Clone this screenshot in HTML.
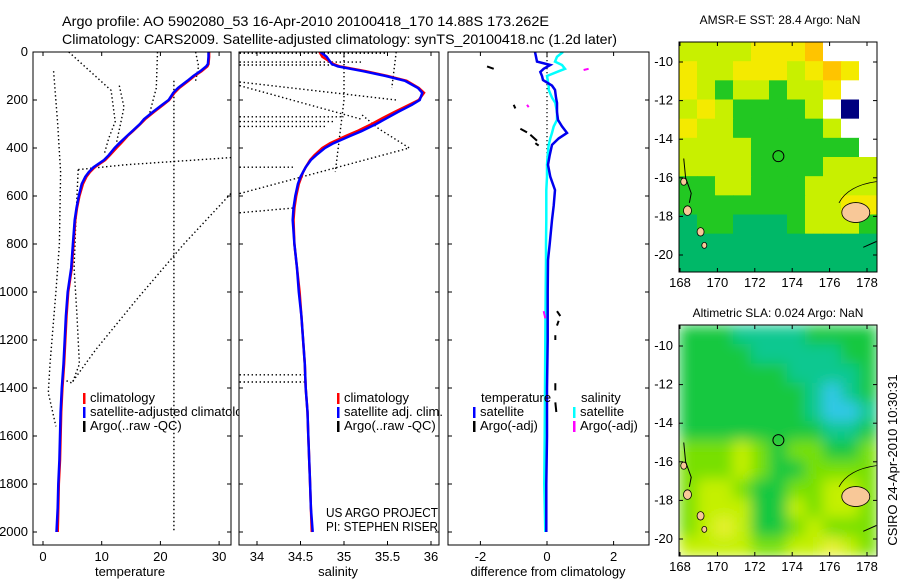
<!DOCTYPE html>
<html><head><meta charset="utf-8"><style>
html,body{margin:0;padding:0;background:#fff;}
svg{display:block;font-family:"Liberation Sans",sans-serif;}
</style></head><body>
<svg id="fig" width="900" height="580" viewBox="0 0 900 580" xmlns="http://www.w3.org/2000/svg">
<defs>
<filter id="blur" x="0" y="0" width="1" height="1"><feGaussianBlur stdDeviation="7"/></filter>
<clipPath id="cm1"><rect x="679" y="42" width="198" height="230"/></clipPath>
<clipPath id="cm2"><rect x="679" y="325" width="198" height="231"/></clipPath>
<clipPath id="cp1"><rect x="33" y="52" width="198" height="493"/></clipPath>
<clipPath id="cp2"><rect x="239" y="52" width="200" height="493"/></clipPath>
<clipPath id="cp3"><rect x="448" y="52" width="201" height="493"/></clipPath>
<clipPath id="clg1"><rect x="0" y="380" width="239" height="60"/></clipPath>
</defs>
<text x="62" y="26" font-size="14" textLength="487" lengthAdjust="spacingAndGlyphs">Argo profile: AO 5902080_53 16-Apr-2010 20100418_170 14.88S 173.262E</text>
<text x="62" y="44" font-size="14" textLength="555" lengthAdjust="spacingAndGlyphs">Climatology: CARS2009. Satellite-adjusted climatology: synTS_20100418.nc (1.2d later)</text>
<g id="g1" clip-path="url(#cp1)"></g>
<g id="g2" clip-path="url(#cp2)"></g>
<g id="g3" clip-path="url(#cp3)"></g>
<g id="axes"></g>
<g id="m1" clip-path="url(#cm1)"></g>
<g id="m2"></g>
<g id="mapaxes"></g>
<text x="780" y="24" font-size="12" text-anchor="middle">AMSR-E SST: 28.4  Argo: NaN</text>
<text x="778" y="317" font-size="12" text-anchor="middle">Altimetric SLA: 0.024  Argo: NaN</text>
<text x="0" y="0" font-size="13" text-anchor="middle" transform="translate(897,460) rotate(-90)">CSIRO 24-Apr-2010 10:30:31</text>
<g id="legends1" clip-path="url(#clg1)"></g>
<g id="legends"></g>
</svg>
<script>
// ---------- data ----------
const depthTicks=[0,200,400,600,800,1000,1200,1400,1600,1800,2000];
const tempTicks=[0,10,20,30];
const salTicks=["34","34.5","35","35.5","36"];
const diffTicks=[-2,0,2];
const lonTicks=[168,170,172,174,176,178];
const latTicks=[-10,-12,-14,-16,-18,-20];
const profDepth=[0,20,50,60,80,100,120,150,170,200,220,250,280,300,330,350,380,400,430,450,480,500,520,550,600,650,700,800,900,1000,1100,1200,1300,1400,1500,1600,1700,1800,1900,2000];
const tempClim=[28.3,28.3,28.2,28.0,27.0,25.8,24.8,23.2,22.4,21.5,20.5,18.9,17.4,16.6,15.3,14.4,13.3,12.5,11.4,10.6,8.8,8.0,7.4,6.8,6.2,5.8,5.5,5.2,4.9,4.3,4.0,3.8,3.6,3.3,3.1,3.0,2.9,2.7,2.6,2.5];
const tempSat=[28.2,28.2,28.1,27.8,26.8,25.6,24.6,23.0,22.2,21.4,20.3,18.7,17.2,16.5,15.2,14.3,13.0,12.2,11.2,10.4,8.6,7.8,7.2,6.6,6.1,5.7,5.4,5.1,4.8,4.2,3.9,3.7,3.5,3.2,3.0,2.9,2.8,2.6,2.5,2.3];
const salClim=[34.72,34.75,34.88,34.95,35.25,35.5,35.72,35.86,35.92,35.86,35.75,35.58,35.42,35.32,35.15,35.02,34.84,34.75,34.66,34.61,34.56,34.53,34.51,34.48,34.45,34.43,34.42,34.43,34.46,34.49,34.51,34.53,34.55,34.56,34.58,34.59,34.6,34.61,34.62,34.63];
const salSat=[34.73,34.8,34.86,34.93,35.22,35.48,35.7,35.85,35.9,35.87,35.78,35.62,35.47,35.37,35.2,35.07,34.88,34.78,34.68,34.62,34.56,34.53,34.5,34.47,34.44,34.42,34.41,34.43,34.46,34.48,34.51,34.53,34.55,34.56,34.58,34.59,34.6,34.61,34.62,34.64];
const diffDepth=[0,20,40,54,70,83,100,117,140,158,190,212,250,283,310,337,360,387,430,470,520,575,640,700,800,867,1000,1200,1400,1600,1800,2000];
const diffTemp=[-0.36,-0.33,-0.3,0.1,-0.1,-0.2,-0.15,-0.12,0.15,0.24,0.27,0.3,0.3,0.33,0.45,0.6,0.35,0.15,0.08,0.03,0.1,0.24,0.2,0.15,0.08,0.03,0.02,0.02,0.0,0.0,-0.02,-0.02];
const diffSal=[0.48,0.3,0.24,0.45,0.54,0.3,0.0,0.02,0.05,0.05,0.15,0.25,0.3,0.3,0.2,0.15,0.1,0.05,0.02,0.0,0.0,-0.02,-0.02,-0.02,-0.03,-0.03,-0.04,-0.05,-0.06,-0.07,-0.08,-0.05];
const tempOthers=[
 [[1.8,80],[2.5,300],[3,500],[2.8,800],[2.2,1000],[1.2,1300],[0.9,1420],[2.2,1560]],
 [[4.4,0],[8,80],[11.6,160],[12.3,290],[11.2,360],[10.5,420]],
 [[13,140],[13.8,230],[13.2,300],[12.5,380]],
 [[22.3,120],[22.3,800],[22.3,1400],[22.3,2000]],
 [[19.5,0],[19.3,150],[18,270]],
 [[6,490],[14,470],[32,440]],
 [[6,490],[5.6,700],[5.3,900],[5.8,1100],[6.2,1300],[5,1380],[4,1370]],
 [[32,590],[24,800],[16,1030],[9,1240],[5,1375]],
 [[26,0],[26.5,60],[26,120]]
];
const salOthers=[
 [[33.8,5],[35.5,5]],[[33.8,42],[35.2,42]],[[33.8,54],[34.9,54]],
 [[33.8,125],[35.6,200]],[[33.8,140],[35.2,280]],
 [[33.8,270],[35.0,270]],[[33.8,290],[34.9,290]],[[33.8,310],[34.8,310]],
 [[33.8,480],[34.42,480]],[[33.8,590],[35.75,400],[35.4,320],[35.2,260]],
 [[33.8,670],[34.42,650]],[[35.0,0],[35.0,200],[34.9,500]],[[35.6,0],[35.55,150]],
 [[33.8,1345],[34.55,1345]],[[33.8,1375],[34.55,1375]]
];
const argoSegs=[[-1.8,60,-1.6,70],[-1.0,220,-0.95,235],[-0.8,320,-0.6,335],[-0.5,345,-0.3,370],[-0.35,380,-0.25,390],[0.3,1080,0.4,1100],[0.35,1120,0.3,1140],[0.25,1180,0.25,1200],[0.25,1380,0.25,1410],[0.25,1460,0.28,1500]];
const argoSalSegs=[[1.1,75,1.25,70],[-0.6,220,-0.55,230],[-0.1,1080,-0.05,1110]];
const sstGrid=[
 [3,3,3,3,2,2,2,1,0,0,0],
 [2,3,3,2,2,2,3,2,1,2,0],
 [2,3,4,3,3,4,3,3,2,0,0],
 [3,2,3,4,4,4,4,3,0,6,0],
 [2,3,3,4,4,4,4,4,3,0,0],
 [3,3,3,3,4,4,4,4,4,4,0],
 [3,3,3,3,4,4,4,4,3,3,3],
 [4,4,3,3,4,4,4,3,3,3,3],
 [4,4,4,4,4,4,4,3,3,2,2],
 [5,4,4,5,5,5,4,3,3,3,4],
 [5,5,5,5,5,5,5,5,5,5,5],
 [5,5,5,5,5,5,5,5,5,5,5]];
const slaGrid=[
 [2,2,2,1,1,1,1,2,2,2,2],
 [2,2,2,2,1,1,1,1,1,2,2],
 [2,2,2,2,2,2,1,1,1,1,2],
 [2,2,2,2,2,2,2,1,0,1,2],
 [2,2,2,2,2,2,2,1,0,0,1],
 [2,2,2,2,2,2,2,2,1,1,2],
 [3,3,3,4,3,2,3,3,2,2,3],
 [3,3,3,4,3,2,2,3,3,3,3],
 [3,4,4,3,2,2,3,3,4,4,3],
 [3,4,4,4,2,2,4,3,4,4,3],
 [3,4,5,4,2,2,3,4,3,3,3],
 [4,4,4,4,3,3,4,4,5,4,3]];
const sstColors=["#ffffff","#ffc400","#f4ea00","#c8f000","#22c822","#00b868","#000080"];
const slaColors=["#30c8e8","#10c890","#18c840","#78e000","#c4f000","#e8f030"];
// ---------- scales ----------
const NS="http://www.w3.org/2000/svg";
const yD=d=>52+d*0.24;
const xT=t=>43+t*5.87;
const xS=s=>257+(s-34)*87;
const xF=v=>547+v*33.3;
const mx=l=>680+(l-168)*18.7;
const my1=la=>62+(-10-la)*19.3;
const my2=la=>346+(-10-la)*19.3;
function el(tag,at,parent){const e=document.createElementNS(NS,tag);for(const k in at)e.setAttribute(k,at[k]);(parent||document.getElementById('fig')).appendChild(e);return e;}
function poly(g,xs,ds,fx,color,w,name,dash){const pts=xs.map((v,i)=>fx(v).toFixed(1)+','+yD(ds[i]).toFixed(1)).join(' ');const p=el('polyline',{points:pts,fill:'none',stroke:color,'stroke-width':w},g);if(dash)p.setAttribute('stroke-dasharray',dash);

return p;}
const g1=document.getElementById('g1'),g2=document.getElementById('g2'),g3=document.getElementById('g3');
tempOthers.forEach(pr=>poly(g1,pr.map(p=>p[0]),pr.map(p=>p[1]),xT,'#000',1.4,'nearby-temperature-profile','1.4 2.6'));
salOthers.forEach(pr=>poly(g2,pr.map(p=>p[0]),pr.map(p=>p[1]),xS,'#000',1.4,'nearby-salinity-profile','1.4 2.6'));
poly(g1,tempClim,profDepth,xT,'#f00',2.5,'temperature-climatology-line');
poly(g1,tempSat,profDepth,xT,'#00f',2.5,'temperature-satellite-line');
poly(g2,salClim,profDepth,xS,'#f00',2.5,'salinity-climatology-line');
poly(g2,salSat,profDepth,xS,'#00f',2.5,'salinity-satellite-line');
poly(g3,[0,0],[0,470],xF,'#000',1.2,'zero-reference-line','1.2 2.8');
poly(g3,diffSal,diffDepth,xF,'#00ffff',2.5,'salinity-difference-line');
poly(g3,diffTemp,diffDepth,xF,'#0000ee',2.5,'temperature-difference-line');
argoSegs.forEach(s=>{const l=el('line',{x1:xF(s[0]),y1:yD(s[1]),x2:xF(s[2]),y2:yD(s[3]),stroke:'#000','stroke-width':2},g3);

});
argoSalSegs.forEach(s=>{const l=el('line',{x1:xF(s[0]),y1:yD(s[1]),x2:xF(s[2]),y2:yD(s[3]),stroke:'#ff00ff','stroke-width':2},g3);

});
const lg=document.getElementById('legends');
const lg1=document.getElementById('legends1');
function legend(x,y,color,txt,name,parent){const p=parent||lg;const r=el('rect',{x:x,y:y-9,width:2.5,height:11,fill:color},p);


const t=el('text',{x:x+7,y:y,'font-size':13},p);t.textContent=txt;

}
legend(83,402,'#f00','climatology','legend-climatology-temp',lg1);
legend(83,416,'#00f','satellite-adjusted climatology','legend-satellite-temp',lg1);
legend(83,430,'#000','Argo(..raw -QC)','legend-argo-temp',lg1);
const ax=document.getElementById('axes');
legend(337,402,'#f00','climatology','legend-climatology-sal');
legend(337,416,'#00f','satellite adj. clim.','legend-satellite-sal');
legend(337,430,'#000','Argo(..raw -QC)','legend-argo-sal');
function txt(x,y,s,anchor,name,size){const t=el('text',{x:x,y:y,'font-size':size||13,'text-anchor':anchor||'middle'},ax);t.textContent=s;

return t;}
txt(481,402,'temperature','start','legend-temperature-header');
txt(581,402,'salinity','start','legend-salinity-header');
legend(473,416,'#00f','satellite','legend-satellite-tdiff');
legend(473,430,'#000','Argo(-adj)','legend-argo-tdiff');
legend(573,416,'#00ffff','satellite','legend-satellite-sdiff');
legend(573,430,'#ff00ff','Argo(-adj)','legend-argo-sdiff');
const pl=txt(326,517,'US ARGO PROJECT','start','project-label');
pl.setAttribute('textLength','112');pl.setAttribute('lengthAdjust','spacingAndGlyphs');
const pi=txt(326,531,'PI: STEPHEN RISER','start','pi-label');
pi.setAttribute('textLength','112');pi.setAttribute('lengthAdjust','spacingAndGlyphs');
function box(x,w,name){const r=el('rect',{x:x,y:52,width:w,height:493,fill:'none',stroke:'#000','stroke-width':1},ax);

}
box(33,198,'temperature-panel-frame');box(239,200,'salinity-panel-frame');box(448,201,'difference-panel-frame');
depthTicks.forEach(d=>{const y=yD(d);txt(28,y+4,String(d),'end','depth-tick-label');
[[33,231],[239,439],[448,649]].forEach(p=>{el('line',{x1:p[0],y1:y,x2:p[0]+4,y2:y,stroke:'#000'},ax);el('line',{x1:p[1],y1:y,x2:p[1]-4,y2:y,stroke:'#000'},ax);});});
function xticks(vals,f,name){vals.forEach(v=>{const x=f(+v);txt(x,561,String(v),'middle',name);el('line',{x1:x,y1:545,x2:x,y2:541,stroke:'#000'},ax);el('line',{x1:x,y1:52,x2:x,y2:56,stroke:'#000'},ax);});}
xticks(tempTicks,xT,'temperature-tick-label');
xticks(salTicks,xS,'salinity-tick-label');
xticks(diffTicks,xF,'difference-tick-label');
txt(130,576,'temperature','middle','temperature-axis-title');
txt(338,576,'salinity','middle','salinity-axis-title');
txt(548,576,'difference from climatology','middle','difference-axis-title');
const m1=document.getElementById('m1'),m2=document.getElementById('m2');
const cw=198/11,ch=230/12;
sstGrid.forEach((row,r)=>row.forEach((v,c)=>{const e=el('rect',{x:679+c*cw,y:42+r*ch,width:cw+0.5,height:ch+0.5,fill:sstColors[v]},m1);

}));
const m2c=el('g',{'clip-path':'url(#cm2)'},m2);
const m2b=el('g',{filter:'url(#blur)'},m2c);
el('rect',{x:679,y:325,width:198,height:231,fill:slaColors[2]},m2b);
slaGrid.forEach((row,r)=>row.forEach((v,c)=>{const e=el('rect',{x:679+c*cw,y:325+r*(231/12),width:cw+0.5,height:231/12+0.5,fill:slaColors[v]},m2b);

}));
const ma=document.getElementById('mapaxes');
function landAndMarks(my,parent){
 el('ellipse',{cx:mx(177.4),cy:my(-17.8),rx:14,ry:10,fill:'#f8c898',stroke:'#000','stroke-width':0.8},parent);
 el('path',{d:`M${mx(176.5)} ${my(-17.3)} Q${mx(177)} ${my(-16.4)} ${mx(178.5)} ${my(-16.2)}`,fill:'none',stroke:'#000','stroke-width':0.8},parent);
 el('path',{d:`M${mx(178.5)} ${my(-19.3)} L${mx(177.8)} ${my(-19.6)}`,fill:'none',stroke:'#000','stroke-width':1},parent);
 [[168.2,-16.2,3],[168.4,-17.7,4],[169.1,-18.8,3.5],[169.3,-19.5,2.5]].forEach(p=>el('ellipse',{cx:mx(p[0]),cy:my(p[1]),rx:p[2],ry:p[2]*1.2,fill:'#f8c898',stroke:'#000','stroke-width':0.8},parent));
 el('path',{d:`M${mx(168.2)} ${my(-15)} L${mx(168.3)} ${my(-16)} L${mx(168.6)} ${my(-16.8)} L${mx(168.5)} ${my(-17.3)}`,fill:'none',stroke:'#000','stroke-width':1},parent);
 el('circle',{cx:mx(173.262),cy:my(-14.88),r:5.5,fill:'none',stroke:'#000','stroke-width':1},parent);
}
landAndMarks(my1,m1);landAndMarks(my2,m2c);
[[42,272,my1,'sst'],[325,556,my2,'sla']].forEach(b=>{
 const fr=el('rect',{x:679,y:b[0],width:198,height:b[1]-b[0],fill:'none',stroke:'#000'},ma);
 
 
 latTicks.forEach(la=>{const y=b[2](la);const t=el('text',{x:673,y:y+4,'font-size':13,'text-anchor':'end'},ma);t.textContent=String(la);
 
 
 el('line',{x1:679,y1:y,x2:683,y2:y,stroke:'#000'},ma);el('line',{x1:877,y1:y,x2:873,y2:y,stroke:'#000'},ma);});
 lonTicks.forEach(lo=>{const x=mx(lo);const t=el('text',{x:x,y:b[1]+15,'font-size':13,'text-anchor':'middle'},ma);t.textContent=String(lo);
 
 
 el('line',{x1:x,y1:b[1],x2:x,y2:b[1]-4,stroke:'#000'},ma);el('line',{x1:x,y1:b[0],x2:x,y2:b[0]+4,stroke:'#000'},ma);});
});
</script>
</body></html>
